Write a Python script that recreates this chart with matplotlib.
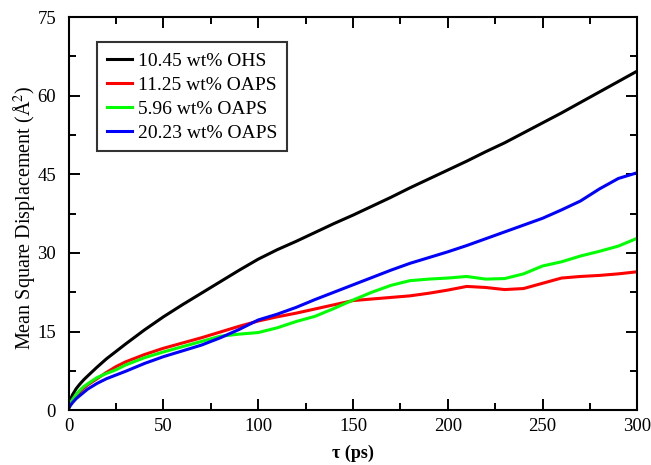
import matplotlib.pyplot as plt
from matplotlib.ticker import MultipleLocator

plt.rcParams['font.family'] = ['Liberation Serif', 'DejaVu Serif']
plt.rcParams['mathtext.fontset'] = 'stix'

# time (ps)
tau = [0, 1, 2, 4, 6, 8, 10, 15, 20, 25, 30, 40, 50, 60, 70, 80, 90, 100,
       110, 120, 130, 140, 150, 160, 170, 180, 190, 200, 210, 220, 230, 240,
       250, 260, 270, 280, 290, 300]

# mean square displacement (A^2)
ohs_1045 = [0.5, 2.0, 2.9, 4.1, 5.0, 5.8, 6.5, 8.2, 9.8, 11.2, 12.6, 15.3, 17.8,
            20.1, 22.3, 24.5, 26.7, 28.8, 30.6, 32.2, 33.9, 35.6, 37.2, 38.9,
            40.6, 42.4, 44.1, 45.8, 47.5, 49.3, 51.0, 52.9, 54.8, 56.7, 58.7,
            60.7, 62.7, 64.7]
oaps_1125 = [0.5, 1.3, 1.9, 2.8, 3.5, 4.2, 4.8, 6.0, 7.2, 8.3, 9.2, 10.6, 11.8,
             12.8, 13.8, 14.9, 16.0, 17.0, 17.8, 18.5, 19.3, 20.1, 20.9, 21.2,
             21.5, 21.8, 22.3, 22.9, 23.6, 23.4, 23.0, 23.2, 24.2, 25.2, 25.5,
             25.7, 26.0, 26.4]
oaps_596 = [0.5, 1.4, 2.0, 3.0, 3.8, 4.5, 5.0, 6.2, 7.0, 7.7, 8.6, 10.0, 11.1,
            12.1, 13.1, 14.1, 14.5, 14.8, 15.7, 16.9, 17.9, 19.4, 21.0, 22.5,
            23.8, 24.7, 25.0, 25.2, 25.5, 25.0, 25.1, 26.0, 27.5, 28.3, 29.4,
            30.3, 31.3, 32.8]
oaps_2023 = [0.3, 0.9, 1.4, 2.2, 2.8, 3.4, 4.0, 5.1, 6.0, 6.7, 7.4, 8.9, 10.2,
             11.3, 12.4, 13.8, 15.4, 17.2, 18.3, 19.6, 21.1, 22.5, 23.9, 25.3,
             26.7, 28.0, 29.1, 30.2, 31.4, 32.7, 34.0, 35.3, 36.6, 38.2, 39.9,
             42.2, 44.2, 45.3]

labels = ['10.45 wt% OHS', '11.25 wt% OAPS', '5.96 wt% OAPS', '20.23 wt% OAPS']
colors = ['black', '#ff0000', '#00ff00', '#0000ff']

fig = plt.figure(figsize=(6.51, 4.65), dpi=100)
ax = fig.add_axes([0.1054, 0.118, 0.8736, 0.8454])

for y, lab, c in zip([ohs_1045, oaps_1125, oaps_596, oaps_2023], labels, colors):
    ax.plot(tau, y, color=c, lw=2.2, label=lab)

ax.set_xlim(0, 300)
ax.set_ylim(0, 75)
ax.xaxis.set_major_locator(MultipleLocator(50))
ax.xaxis.set_minor_locator(MultipleLocator(25))
ax.yaxis.set_major_locator(MultipleLocator(15))
ax.yaxis.set_minor_locator(MultipleLocator(7.5))
ax.tick_params(which='both', direction='in', top=True, right=True,
               labelsize=13.5, width=1.4)
ax.tick_params(axis='x', which='major', pad=6)
ax.tick_params(axis='y', which='major', pad=9)
ax.tick_params(which='major', length=8)
ax.tick_params(which='minor', length=5)
for s in ax.spines.values():
    s.set_linewidth(1.5)

ax.set_xlabel(r'τ (ps)', fontsize=13, fontweight='bold', labelpad=7)
ax.set_ylabel('Mean Square Displacement (Å$^2$)', fontsize=14.5)
ax.yaxis.set_label_coords(-0.053, 0.49)

leg = ax.legend(loc='upper left', bbox_to_anchor=(0.05, 0.936), fontsize=14,
                frameon=True, fancybox=False, handlelength=1.3,
                handletextpad=0.3, borderpad=0.5, labelspacing=0.33,
                borderaxespad=0)
leg.get_frame().set_edgecolor('black')
leg.get_frame().set_linewidth(1.5)

fig.savefig('out.png', dpi=100)
